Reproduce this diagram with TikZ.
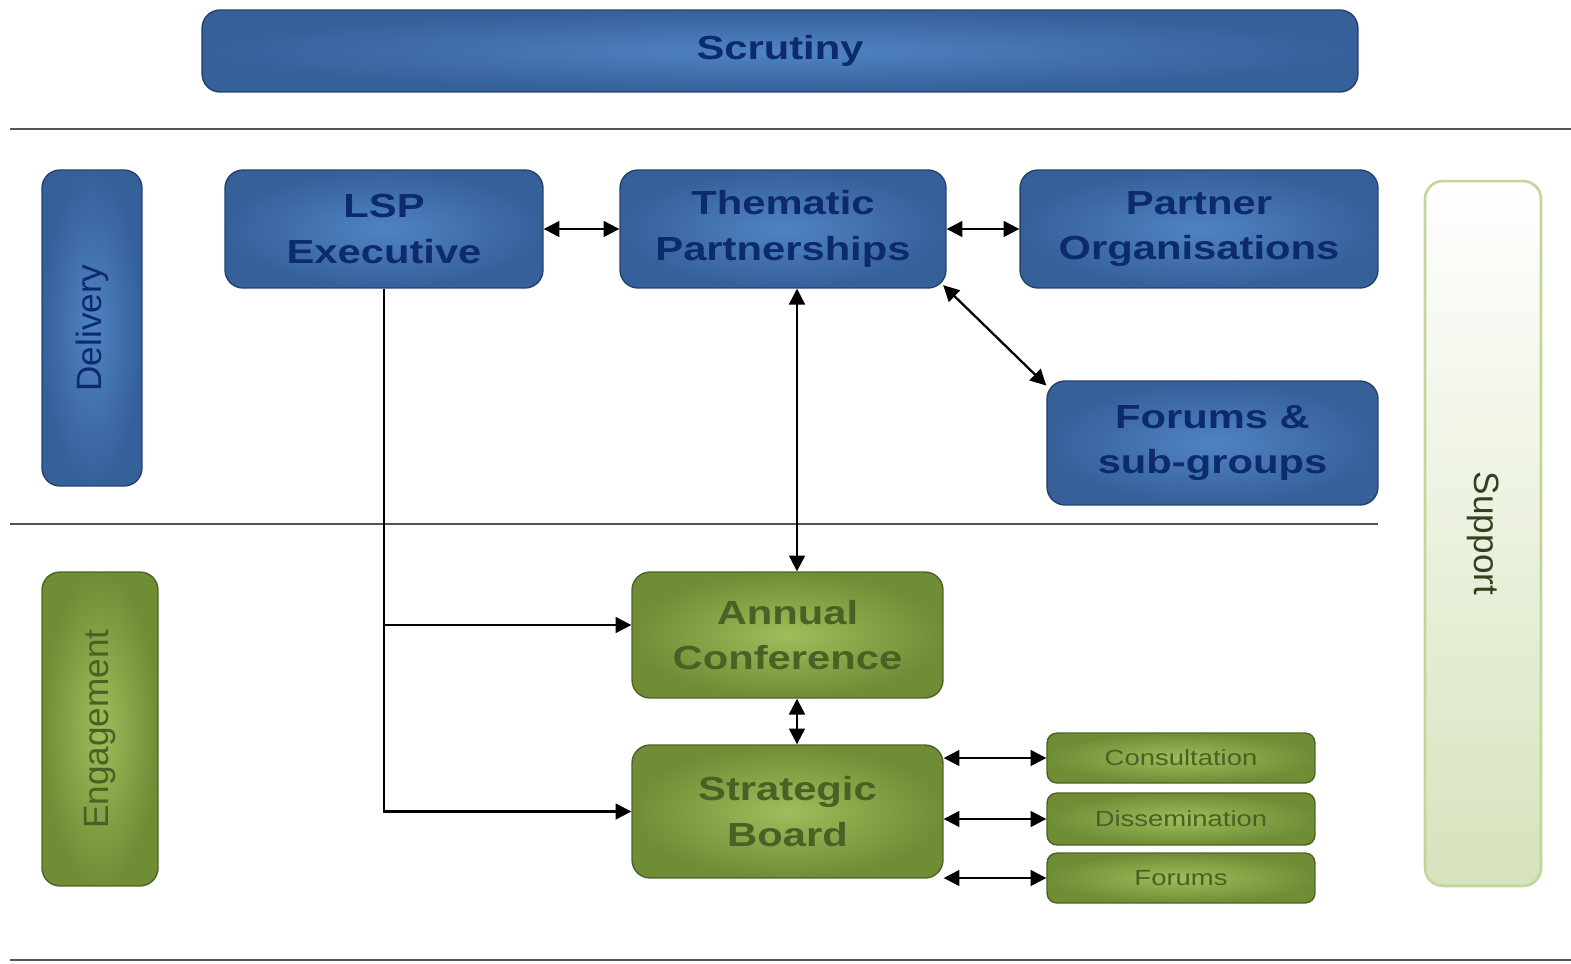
\documentclass[tikz,border=0pt]{standalone}
\usepackage{fontspec}
\setmainfont{Liberation Sans}
\newfontfamily\widefont{Liberation Sans}[FakeStretch=1.25]
\usetikzlibrary{arrows.meta}
\definecolor{bdark}{HTML}{35609A}
\definecolor{blight}{HTML}{5083C4}
\definecolor{bedge}{HTML}{24426C}
\definecolor{btext}{HTML}{0C2A6C}
\definecolor{gdark}{HTML}{6F8D35}
\definecolor{glight}{HTML}{9EBE5B}
\definecolor{gedge}{HTML}{4E6226}
\definecolor{gtext}{HTML}{4C5F25}
\definecolor{sfill}{HTML}{D6E3BC}
\definecolor{sedge}{HTML}{C2D69A}
\definecolor{stext}{HTML}{33401E}
\definecolor{septext}{HTML}{555555}
\begin{document}
\begin{tikzpicture}[x=0.02cm,y=-0.02cm,
  bluebox/.style={rectangle, rounded corners=0.36cm, draw=bedge, line width=0.8pt,
    inner color=blight, outer color=bdark, text=btext, align=center,
    font=\widefont\bfseries\fontsize{19}{26}\selectfont},
  greenbox/.style={rectangle, rounded corners=0.36cm, draw=gedge, line width=0.8pt,
    inner color=glight, outer color=gdark, text=gtext, align=center,
    font=\widefont\bfseries\fontsize{19}{26}\selectfont},
  smallbox/.style={rectangle, rounded corners=0.2cm, draw=gedge, line width=0.8pt,
    inner color=glight, outer color=gdark, text=gtext,
    minimum width=5.36cm, font=\widefont\fontsize{12.5}{15}\selectfont},
  sep/.style={draw=septext, line width=1.3pt},
  tip/.tip={Triangle[length=9pt,width=9pt]},
  dbl/.style={{tip}-{tip}, line width=1.3pt},
  one/.style={-{tip}, line width=1.3pt}
]
\useasboundingbox (0,0) rectangle (1571,963);

% separators
\draw[sep] (10,129) -- (1571,129);
\draw[sep] (10,524) -- (1378,524);
\draw[sep] (10,960) -- (1571,960);

% top bar
\node[bluebox, minimum width=23.12cm, minimum height=1.64cm] (scr) at (780,51) {Scrutiny};

% side bars
\node[bluebox, rotate=90, minimum width=6.32cm, minimum height=2.0cm,
  font=\fontsize{20}{24}\selectfont] (del) at (92,328) {Delivery};
\node[greenbox, rotate=90, minimum width=6.28cm, minimum height=2.32cm,
  font=\fontsize{20}{24}\selectfont] (eng) at (100,729) {Engagement};
\node[rectangle, rotate=-90, rounded corners=0.36cm, draw=sedge, line width=1.5pt,
  top color=white, bottom color=sfill, text=stext,
  minimum width=14.1cm, minimum height=2.32cm,
  font=\fontsize{20}{24}\selectfont] (sup) at (1483,533.5) {Support};

% delivery boxes
\node[bluebox, minimum width=6.36cm, minimum height=2.36cm] (lsp) at (384,229) {LSP\\Executive};
\node[bluebox, minimum width=6.52cm, minimum height=2.36cm] (them) at (783,229) {Thematic\\Partnerships};
\node[bluebox, minimum width=7.16cm, minimum height=2.36cm] (part) at (1199,229) {Partner\\Organisations};
\node[bluebox, minimum width=6.62cm, minimum height=2.48cm] (fsg) at (1212.5,443) {Forums \&\\sub-groups};

% engagement boxes
\node[greenbox, minimum width=6.22cm, minimum height=2.52cm] (ann) at (787.5,635) {Annual\\Conference};
\node[greenbox, minimum width=6.22cm, minimum height=2.66cm] (brd) at (787.5,811.5) {Strategic\\Board};
\node[smallbox, minimum height=1.0cm] (con) at (1181,758) {Consultation};
\node[smallbox, minimum height=1.04cm] (dis) at (1181,819) {Dissemination};
\node[smallbox, minimum height=1.0cm] (for) at (1181,878) {Forums};

% connectors
\draw[dbl] (lsp.east) -- (them.west);
\draw[dbl] (them.east) -- (part.west);
\draw[dbl] ([xshift=-2pt,yshift=2pt]them.south east) -- ([yshift=-3pt]fsg.north west);
\draw[dbl] (them.south -| 797,0) -- (ann.north -| 797,0);
\draw[dbl] (ann.south -| 797,0) -- (brd.north -| 797,0);
\draw[one] (lsp.south) |- (brd.west);
\draw[one] (lsp.south |- 0,625) -- (ann.west |- 0,625);
\draw[dbl] (brd.east |- con.west) -- (con.west);
\draw[dbl] (brd.east |- dis.west) -- (dis.west);
\draw[dbl] (brd.east |- for.west) -- (for.west);
\end{tikzpicture}
\end{document}
